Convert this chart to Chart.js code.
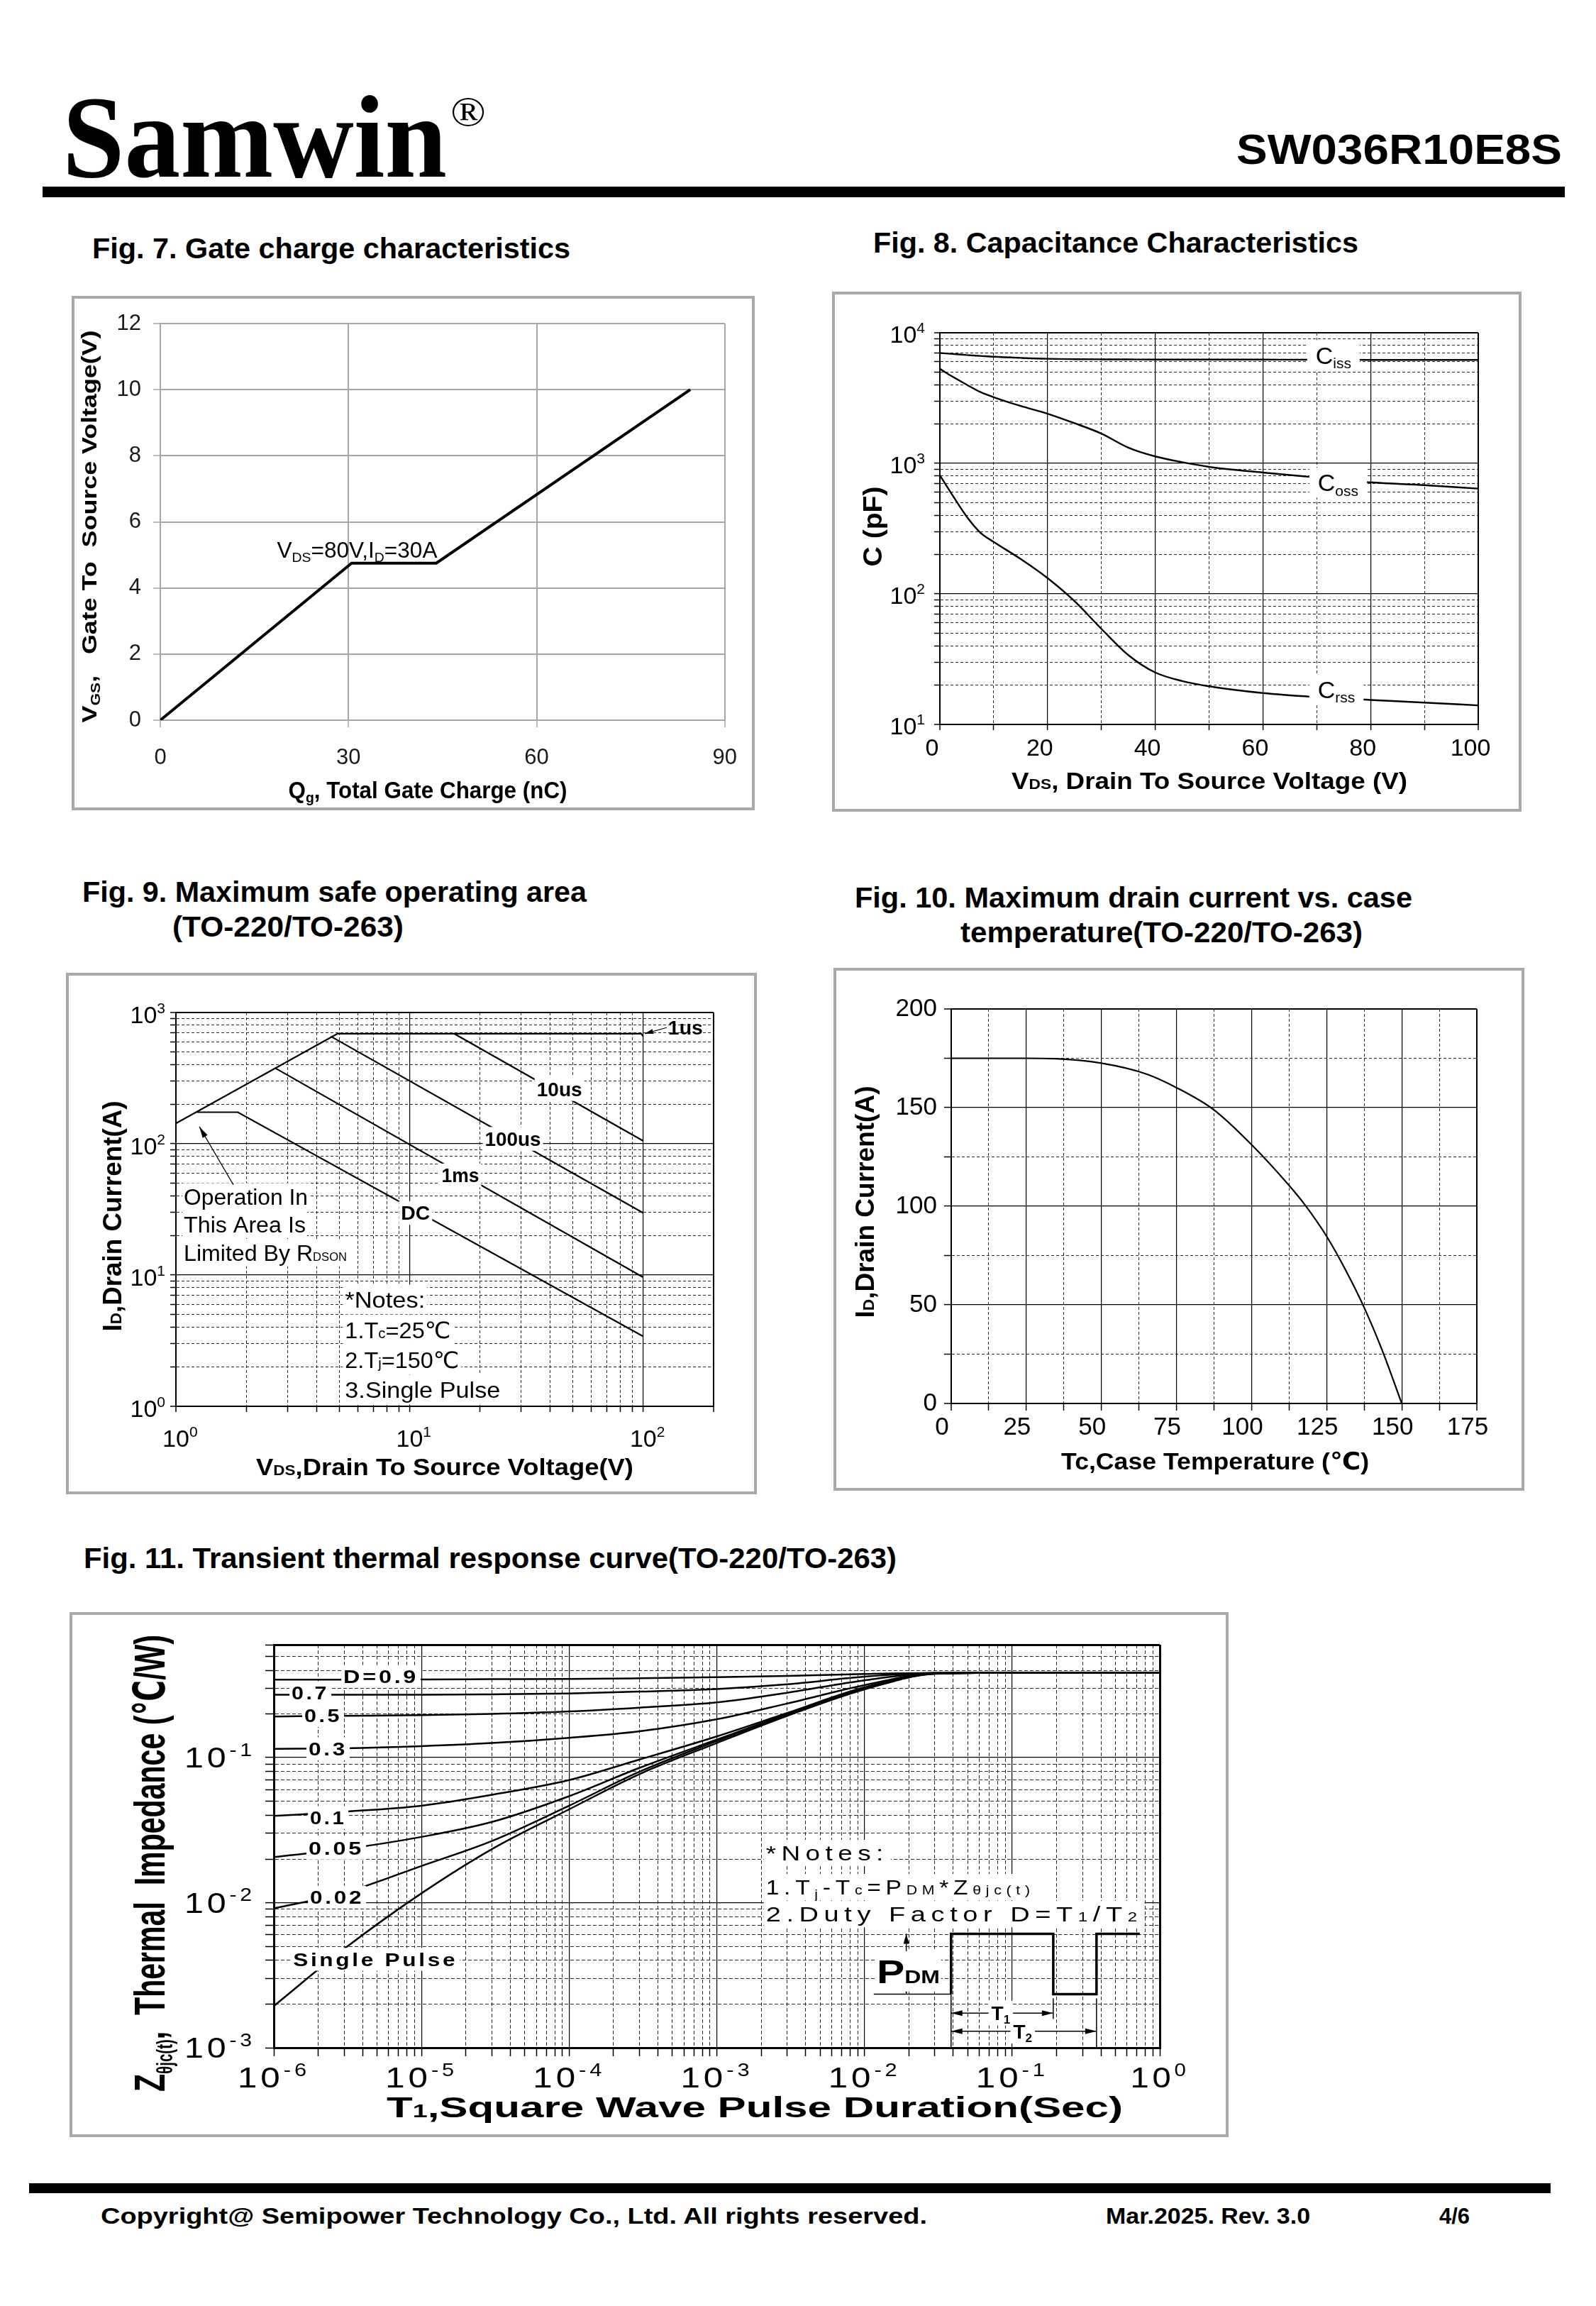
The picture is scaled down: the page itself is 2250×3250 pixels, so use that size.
<!DOCTYPE html>
<html>
<head>
<meta charset="utf-8">
<script src="https://cdn.jsdelivr.net/npm/chart.js@4.4.1/dist/chart.umd.min.js"></script>
<style>
html, body { margin: 0; padding: 0; background: #fff; }
body { position: relative; width: 2250px; height: 3250px; overflow: hidden; font-family: "Liberation Sans", Arial, sans-serif; }
.t { position: absolute; white-space: nowrap; transform-origin: left center; color: #000; }
.box { position: absolute; box-sizing: border-box; border: 4px solid #a9a9a9; pointer-events: none; }
.bar { position: absolute; background: #000; }
canvas { position: absolute; }
</style>
</head>
<body>
<div class="bar" style="left:60px;top:263px;width:2146px;height:15px"></div>
<div class="bar" style="left:41px;top:3077px;width:2145px;height:14px"></div>
<script>
// Fig. 7 gate charge
const qg = [0, 30.5, 44, 84.5];
const vgs = [0, 4.75, 4.75, 10];
const qgTicks = [0, 30, 60, 90];
const vgsTicks = [0, 2, 4, 6, 8, 10, 12];

// Fig. 8 capacitance
const vdsCap = [0, 2, 5, 7.5, 10, 15, 20, 25, 30, 35, 40, 45, 50, 60, 70, 80, 90, 100];
const ciss = [7000, 6900, 6750, 6650, 6550, 6420, 6320, 6280, 6260, 6250, 6240, 6240, 6240, 6230, 6220, 6200, 6200, 6200];
const coss = [5300, 4700, 4000, 3520, 3210, 2750, 2400, 2030, 1690, 1320, 1130, 1020, 940, 850, 780, 715, 680, 640];
const crss = [810, 600, 390, 295, 250, 185, 132, 88, 54, 34, 25, 21.5, 19.6, 17.4, 16.2, 15.4, 14.7, 14.0];
const capVTicks = [0, 10, 20, 30, 40, 50, 60, 70, 80, 90, 100];
const capExp = [1, 2, 3, 4];

// Fig. 9 safe operating area
const limV = [1, 4.92], limI = [143, 690];
const us1V = [4.92, 98, 100], us1I = [690, 690, 655];
const us10V = [15.5, 100], us10I = [690, 105];
const us100V = [4.6, 100], us100I = [658, 29.7];
const ms1V = [2.67, 100], ms1I = [376, 9.6];
const dcV = [1.23, 1.84, 100], dcI = [174, 174, 3.41];
const soaXExp = [0, 1, 2];
const soaYExp = [0, 1, 2, 3];

// Fig. 10 drain current vs case temperature
const tc = [0, 25, 35, 50, 65, 75, 87.5, 100, 112.5, 118, 125, 131.5, 137.5, 143.5, 150];
const idMax = [175, 175, 174.8, 172.5, 167, 160.1, 148.8, 131.2, 110.5, 100.2, 84.7, 67.1, 48.6, 26.9, 0];
const tcTicks = [0, 12.5, 25, 37.5, 50, 62.5, 75, 87.5, 100, 112.5, 125, 137.5, 150, 162.5, 175];
const idTicks = [0, 25, 50, 75, 100, 125, 150, 175, 200];

// Fig. 11 transient thermal impedance
const zthT = [1e-6, 3e-6, 1e-5, 3e-5, 1e-4, 3e-4, 1e-3, 3e-3, 1e-2, 3e-2, 1e-1, 1];
const zD09 = [0.345, 0.345, 0.346, 0.347, 0.348, 0.352, 0.358, 0.366, 0.377, 0.384, 0.385, 0.385];
const zD07 = [0.271, 0.271, 0.271, 0.273, 0.277, 0.285, 0.297, 0.32, 0.361, 0.383, 0.385, 0.385];
const zD05 = [0.192, 0.194, 0.196, 0.2, 0.208, 0.221, 0.24, 0.28, 0.341, 0.382, 0.385, 0.385];
const zD03 = [0.115, 0.116, 0.12, 0.126, 0.137, 0.152, 0.184, 0.236, 0.316, 0.381, 0.385, 0.385];
const zD01 = [0.0396, 0.0424, 0.0466, 0.0554, 0.07, 0.097, 0.14, 0.203, 0.305, 0.38, 0.385, 0.385];
const zD005 = [0.0206, 0.0234, 0.0284, 0.036, 0.0542, 0.085, 0.133, 0.199, 0.3, 0.379, 0.385, 0.385];
const zD002 = [0.00914, 0.0117, 0.0179, 0.0266, 0.0466, 0.08, 0.13, 0.197, 0.298, 0.379, 0.385, 0.385];
const zSingle = [0.00194, 0.00481, 0.0116, 0.0234, 0.044, 0.077, 0.126, 0.194, 0.295, 0.378, 0.385, 0.385];
const zthXExp = [-6, -5, -4, -3, -2, -1, 0];
const zthYExp = [-3, -2, -1];

Chart.defaults.font.family = '"Liberation Sans", Arial, sans-serif';
Chart.defaults.color = '#000';
const FAM = '"Liberation Sans", "DejaVu Sans", sans-serif';

// page text, squeezed or stretched to the width it has in the datasheet
function txt(s, x, cy, size, w, o = {}) {
  const d = document.createElement('div');
  d.className = 't';
  d.textContent = s;
  d.style.fontSize = size + 'px';
  d.style.lineHeight = size + 'px';
  d.style.fontWeight = o.weight || 'bold';
  if (o.family) d.style.fontFamily = o.family;
  d.style.left = x + 'px';
  d.style.top = (cy - size / 2) + 'px';
  document.body.appendChild(d);
  if (w) d.style.transform = 'scaleX(' + (w / d.getBoundingClientRect().width) + ')';
}

// canvas text with sub/superscripts
function rich(ctx, parts, x, y, o = {}) {
  const size = o.size || 30, wt = o.weight || 'normal';
  ctx.save();
  ctx.letterSpacing = (o.spacing || 0) + 'px';
  const segs = parts.map(p => {
    const [t, k] = Array.isArray(p) ? p : [p, ''];
    const s = k ? Math.round(size * (o.sub || 0.62)) : size;
    const dy = k === 'sub' ? size * 0.18 : k === 'sup' ? -size * 0.42 : 0;
    ctx.font = wt + ' ' + s + 'px ' + FAM;
    return {t, s, dy, w: ctx.measureText(t).width};
  });
  const w = segs.reduce((a, g) => a + g.w, 0);
  const sx = o.fit ? o.fit / w : 1;
  ctx.translate(x, y);
  if (o.rot) ctx.rotate(o.rot);
  ctx.scale(sx, 1);
  let cx = o.align === 'center' ? -w / 2 : o.align === 'right' ? -w : o.align === 'first' ? -segs[0].w / 2 : 0;
  if (o.bg) {
    const px = (o.padX ?? 4) / sx, h = o.bgH || size * 1.24;
    ctx.fillStyle = o.bg;
    ctx.fillRect(cx - px, -h / 2, w + 2 * px, h);
  }
  ctx.fillStyle = '#000';
  ctx.textBaseline = 'alphabetic';
  ctx.textAlign = 'left';
  for (const g of segs) {
    ctx.font = wt + ' ' + g.s + 'px ' + FAM;
    ctx.fillText(g.t, cx, size * 0.36 + g.dy);
    cx += g.w;
  }
  ctx.restore();
}

function head(ctx, x, y, a, len, wid) {
  ctx.beginPath();
  ctx.moveTo(x, y);
  ctx.lineTo(x - len * Math.cos(a) + wid * Math.sin(a), y - len * Math.sin(a) - wid * Math.cos(a));
  ctx.lineTo(x - len * Math.cos(a) - wid * Math.sin(a), y - len * Math.sin(a) + wid * Math.cos(a));
  ctx.closePath();
  ctx.fill();
}
function arrow(ctx, x1, y1, x2, y2, o = {}) {
  ctx.save();
  ctx.strokeStyle = ctx.fillStyle = '#000';
  ctx.lineWidth = o.lw || 1.5;
  ctx.beginPath(); ctx.moveTo(x1, y1); ctx.lineTo(x2, y2); ctx.stroke();
  const a = Math.atan2(y2 - y1, x2 - x1);
  head(ctx, x2, y2, a, o.len || 14, o.wid || 4);
  if (o.both) head(ctx, x1, y1, a + Math.PI, o.len || 14, o.wid || 4);
  ctx.restore();
}
function seg(ctx, pts, lw) {
  ctx.save();
  ctx.strokeStyle = '#000';
  ctx.lineWidth = lw;
  ctx.beginPath();
  pts.forEach((p, i) => i ? ctx.lineTo(p[0], p[1]) : ctx.moveTo(p[0], p[1]));
  ctx.stroke();
  ctx.restore();
}

const lin = (vals, isMajor) => vals.map((v, i) => ({value: v, major: isMajor(v), edge: i === 0 || i === vals.length - 1}));
function logTicks(e0, e1, max) {
  const out = [];
  for (let e = e0; e <= e1; e++) {
    for (let m = 1; m <= 9; m++) {
      const v = +(m * Math.pow(10, e)).toPrecision(6);
      if (v > max * 1.0001) break;
      out.push({value: v, major: m === 1});
    }
  }
  out[0].edge = true;
  out[out.length - 1].edge = true;
  out[out.length - 1].major = true;
  return out;
}

function axis(type, min, max, ticks, o = {}) {
  const major = c => c.tick && c.tick.major;
  return {
    type, min, max, bounds: 'data',
    afterBuildTicks: s => { s.ticks = ticks.map(t => Object.assign({}, t)); },
    grid: {
      color: o.gridColor || (c => major(c) ? '#000' : '#2a2a2a'),
      lineWidth: c => (c.tick && c.tick.edge) ? (o.edgeWidth || 2) : (major(c) ? (o.majorWidth || 1.2) : 1),
      tickLength: o.tickLength ?? 8,
      tickColor: o.tickColor || '#000',
      tickWidth: o.tickWidth || 1.5,
      tickBorderDash: []
    },
    border: {
      color: o.borderColor || '#000',
      width: o.borderWidth || 2,
      dash: c => (!c.tick || major(c) || o.solid) ? [] : (o.dash || [5, 3])
    },
    ticks: {
      display: !!o.labels, autoSkip: false, maxRotation: 0, minRotation: 0,
      padding: o.padding ?? 4, font: {size: o.size || 32}, color: o.tickText || '#000',
      callback: o.labels || (v => v), labelOffset: o.labelOffset || 0
    }
  };
}

const pts = (xs, ys) => xs.map((x, i) => ({x, y: ys[i]}));
const line = (xs, ys, w, smooth) => ({data: pts(xs, ys), borderColor: '#000', borderWidth: w, pointRadius: 0, fill: false,
  cubicInterpolationMode: smooth ? 'monotone' : 'default', tension: 0});

function makeChart(box, area, scales, datasets, draw) {
  const [left, top, W, H] = box;
  const [l, t, r, b] = area;
  const cv = document.createElement('canvas');
  cv.width = W; cv.height = H;
  Object.assign(cv.style, {left: left + 'px', top: top + 'px', width: W + 'px', height: H + 'px'});
  document.body.appendChild(cv);
  const frame = document.createElement('div');
  frame.className = 'box';
  Object.assign(frame.style, {left: left + 'px', top: top + 'px', width: W + 'px', height: H + 'px'});
  document.body.appendChild(frame);
  scales.x.afterFit = s => { s.height = H - b; };
  scales.y.afterFit = s => { s.width = l; };
  return new Chart(cv, {
    type: 'line',
    data: {datasets},
    options: {
      responsive: false, animation: false, devicePixelRatio: 1, events: [],
      layout: {padding: {left: 0, top: t, right: W - r, bottom: 0}},
      plugins: {legend: {display: false}, tooltip: {enabled: false}},
      scales
    },
    plugins: [{id: 'notes', afterDraw: c => draw(c.ctx, c.scales.x, c.scales.y)}]
  });
}

const ROT = -Math.PI / 2;

// header, titles, footer
txt('Samwin', 88, 193, 166, 542, {family: '"Liberation Serif", serif'});
txt('®', 635, 157, 60, 50, {family: '"Liberation Serif", serif', weight: 'normal'});
txt('SW036R10E8S', 1743, 211, 60, 459);
txt('Fig. 7. Gate charge characteristics', 130, 350, 40, 674);
txt('Fig. 8. Capacitance Characteristics', 1231, 342, 40, 684);
txt('Fig. 9. Maximum safe operating area', 116, 1257, 40, 711);
txt('(TO-220/TO-263)', 243, 1306, 40, 326);
txt('Fig. 10. Maximum drain current vs. case', 1205, 1265, 40, 786);
txt('temperature(TO-220/TO-263)', 1354, 1314, 40, 567);
txt('Fig. 11. Transient thermal response curve(TO-220/TO-263)', 118, 2196, 40, 1146);
txt('Copyright@ Semipower Technology Co., Ltd. All rights reserved.', 142, 3123, 31, 1165);
txt('Mar.2025. Rev. 3.0', 1559, 3123, 31, 288);
txt('4/6', 2029, 3123, 31, 43);

// Fig. 7
const gray = {solid: true, gridColor: '#a6a6a6', borderColor: '#a6a6a6', tickColor: '#a6a6a6', majorWidth: 2, edgeWidth: 2,
  tickLength: 10, size: 31, tickText: '#1a1a1a', labels: v => v};
makeChart([101, 417, 963, 725], [125, 39, 928, 598], {
  x: axis('linear', 0, 90, lin(qgTicks, () => true), Object.assign({}, gray, {padding: 25})),
  y: axis('linear', 0, 12, lin(vgsTicks, () => true), Object.assign({}, gray, {padding: 17}))
}, [line(qg, vgs, 4, false)], (ctx, xs, ys) => {
  rich(ctx, ['V', ['DS', 'sub'], '=80V,I', ['D', 'sub'], '=30A'], xs.getPixelForValue(18.6), ys.getPixelForValue(5.15), {size: 31, fit: 226});
  rich(ctx, ['V', ['GS', 'sub'], ',   Gate To  Source Voltage(V)'], 24, 325, {size: 30, weight: 'bold', rot: ROT, align: 'center', fit: 553});
  rich(ctx, ['Q', ['g', 'sub'], ', Total Gate Charge (nC)'], 502, 696, {size: 34, weight: 'bold', align: 'center', fit: 393});
});

// Fig. 8
makeChart([1173, 411, 972, 733], [152, 58, 911, 610], {
  x: axis('linear', 0, 100, lin(capVTicks, v => v % 20 === 0), {labels: v => v % 20 === 0 ? v : '', size: 34, padding: 6, labelOffset: -11, dash: [4, 3]}),
  y: axis('logarithmic', 10, 10000, logTicks(1, 4, 10000), {dash: [4, 3]})
}, [line(vdsCap, ciss, 2.4, true), line(vdsCap, coss, 2.4, true), line(vdsCap, crss, 2.4, true)], (ctx, xs, ys) => {
  const X = v => xs.getPixelForValue(v), Y = v => ys.getPixelForValue(v);
  capExp.forEach(e => rich(ctx, ['10', [String(e), 'sup']], 131, Y(Math.pow(10, e)) + 2, {size: 34, align: 'right'}));
  rich(ctx, ['C', ['iss', 'sub']], X(69.8), Y(6750), {size: 34, bg: '#fff', padX: 12});
  rich(ctx, ['C', ['oss', 'sub']], X(70.2), Y(711), {size: 34, bg: '#fff', padX: 12});
  rich(ctx, ['C', ['rss', 'sub']], X(70.2), Y(18.5), {size: 34, bg: '#fff', padX: 12});
  rich(ctx, ['C (pF)'], 57, 331, {size: 36, weight: 'bold', rot: ROT, align: 'center', fit: 113});
  rich(ctx, ['V', ['DS', 'small'], ', Drain To Source Voltage (V)'], 532, 689, {size: 34, weight: 'bold', align: 'center', fit: 558});
});

// Fig. 9
makeChart([93, 1371, 974, 735], [155, 56, 913, 611], {
  x: axis('logarithmic', 1, 200, logTicks(0, 2, 200), {dash: [4, 3]}),
  y: axis('logarithmic', 1, 1000, logTicks(0, 3, 1000), {dash: [4, 3]})
}, [line(limV, limI, 2.2), line(us1V, us1I, 2.2), line(us10V, us10I, 2.2), line(us100V, us100I, 2.2),
    line(ms1V, ms1I, 2.2), line(dcV, dcI, 2.2)], (ctx, xs, ys) => {
  const X = v => xs.getPixelForValue(v), Y = v => ys.getPixelForValue(v);
  soaXExp.forEach(e => rich(ctx, ['10', [String(e), 'sup']], X(Math.pow(10, e)), 656, {size: 34, align: 'first'}));
  soaYExp.forEach(e => rich(ctx, ['10', [String(e), 'sup']], 140, Y(Math.pow(10, e)) + 3, {size: 34, align: 'right'}));
  const lab = {size: 27, weight: 'bold', bg: '#fff', padX: 3};
  rich(ctx, ['10us'], X(35.0), Y(261), Object.assign({fit: 64}, lab));
  rich(ctx, ['100us'], X(21.0), Y(109), Object.assign({fit: 79}, lab));
  rich(ctx, ['1ms'], X(13.7), Y(57.4), Object.assign({fit: 53}, lab));
  rich(ctx, ['DC'], X(9.19), Y(29.7), Object.assign({fit: 41}, lab));
  rich(ctx, ['1us'], X(127.7), Y(771), {size: 27, weight: 'bold', fit: 49});
  arrow(ctx, X(126), Y(768), X(101.5), Y(690), {lw: 1.2, len: 12, wid: 3.5});
  const op = {size: 31, bg: '#fff', padX: 2};
  rich(ctx, ['Operation In'], X(1.08), Y(39.5), Object.assign({fit: 175}, op));
  rich(ctx, ['This Area Is'], X(1.08), Y(24.3), Object.assign({fit: 172}, op));
  rich(ctx, ['Limited By R', ['DSON', 'small']], X(1.08), Y(14.8), Object.assign({fit: 230, sub: 0.5}, op));
  arrow(ctx, X(1.76), Y(48.8), X(1.26), Y(135), {lw: 1.2, len: 16, wid: 4});
  const nt = {size: 32, bg: '#fff', padX: 3, bgH: 42};
  rich(ctx, ['*Notes:'], X(5.29), Y(6.52), Object.assign({fit: 113}, nt));
  rich(ctx, ['1.T', ['c', 'small'], '=25℃'], X(5.29), Y(3.82), Object.assign({fit: 149}, nt));
  rich(ctx, ['2.T', ['j', 'small'], '=150℃'], X(5.29), Y(2.27), Object.assign({fit: 161}, nt));
  rich(ctx, ['3.Single Pulse'], X(5.29), Y(1.34), Object.assign({fit: 219}, nt));
  rich(ctx, ['I', ['D', 'small'], ',Drain Current(A)'], 65, 343, {size: 36, weight: 'bold', rot: ROT, align: 'center', fit: 325});
  rich(ctx, ['V', ['DS', 'small'], ',Drain To Source Voltage(V)'], 534, 696, {size: 34, weight: 'bold', align: 'center', fit: 532});
});

// Fig. 10
makeChart([1175, 1364, 974, 737], [166, 58, 907, 614], {
  x: axis('linear', 0, 175, lin(tcTicks, v => v % 25 === 0), {labels: v => v % 25 === 0 ? v : '', size: 35, padding: 3, tickLength: 10, labelOffset: -13, dash: [4, 3]}),
  y: axis('linear', 0, 200, lin(idTicks, v => v % 50 === 0), {labels: v => v % 50 === 0 ? v : '', size: 35, padding: 10, tickLength: 10, dash: [4, 3]})
}, [line(tc, idMax, 2.2, true)], (ctx) => {
  rich(ctx, ['I', ['D', 'small'], ',Drain Current(A)'], 44, 330, {size: 36, weight: 'bold', rot: ROT, align: 'center', fit: 327});
  rich(ctx, ['Tc,Case Temperature (℃)'], 538, 695, {size: 34, weight: 'bold', align: 'center', fit: 434});
});

// Fig. 11
makeChart([98, 2272, 1634, 740], [288, 46, 1537, 614], {
  x: axis('logarithmic', 1e-6, 1, logTicks(-6, 0, 1), {tickLength: 12, borderWidth: 3, edgeWidth: 3, dash: [5, 3]}),
  y: axis('logarithmic', 0.001, 0.6, logTicks(-3, -1, 0.6), {tickLength: 12, borderWidth: 3, edgeWidth: 3, dash: [5, 3]})
}, [zD09, zD07, zD05, zD03, zD01, zD005, zD002, zSingle].map(z => line(zthT, z, 2.5, true)), (ctx, xs, ys) => {
  const X = v => xs.getPixelForValue(v), Y = v => ys.getPixelForValue(v);
  zthXExp.forEach(e => rich(ctx, ['10', [String(e), 'sup']], X(Math.pow(10, e)), 656, {size: 40, spacing: 4, align: 'center', fit: e ? 102 : 83}));
  zthYExp.forEach(e => rich(ctx, ['10', [String(e), 'sup']], 262, Y(Math.pow(10, e)), {size: 40, spacing: 4, align: 'right', fit: 100}));
  const lab = {size: 26, weight: 'bold', spacing: 3, bg: '#fff', padX: 3};
  [[['D=0.9'], 2.96e-6, 0.362, 106], [['0.7'], 1.32e-6, 0.28, 53], [['0.5'], 1.61e-6, 0.195, 53], [['0.3'], 1.72e-6, 0.115, 55],
   [['0.1'], 1.76e-6, 0.0386, 51], [['0.05'], 1.72e-6, 0.0238, 78], [['0.02'], 1.76e-6, 0.0109, 76], [['Single Pulse'], 1.35e-6, 0.00407, 232]]
    .forEach(([p, t, z, w]) => rich(ctx, p, X(t), Y(z), Object.assign({fit: w}, lab)));
  const nt = {size: 30, spacing: 6, bg: '#fff', padX: 3};
  rich(ctx, ['*Notes:'], X(0.00215), Y(0.022), Object.assign({fit: 173}, nt));
  rich(ctx, ['1.T', ['j', 'sub'], '-T', ['c', 'small'], '=P', ['DM', 'small'], '*Z', ['θjc(t)', 'small']], X(0.00215), Y(0.0128), Object.assign({fit: 379}, nt));
  rich(ctx, ['2.Duty Factor D=T', ['1', 'small'], '/T', ['2', 'small']], X(0.00215), Y(0.00834), Object.assign({fit: 531}, nt));
  // pulse sketch
  const lo = 0.00234, hi = 0.0061;
  seg(ctx, [[X(0.01156), Y(lo)], [X(0.0386), Y(lo)]], 1.5);
  seg(ctx, [[X(0.0386), Y(lo)], [X(0.0386), Y(hi)], [X(0.19), Y(hi)], [X(0.19), Y(lo)], [X(0.373), Y(lo)], [X(0.373), Y(hi)], [X(0.733), Y(hi)]], 3.5);
  seg(ctx, [[X(0.0386), Y(lo)], [X(0.0386), Y(0.001)]], 1.5);
  seg(ctx, [[X(0.19), Y(0.00219)], [X(0.19), Y(0.00158)]], 1.5);
  seg(ctx, [[X(0.373), Y(0.00219)], [X(0.373), Y(0.001)]], 1.5);
  arrow(ctx, X(0.0192), Y(hi), X(0.0192), Y(lo), {both: true, lw: 1.5, len: 14, wid: 4});
  arrow(ctx, X(0.0386), Y(0.00173), X(0.19), Y(0.00173), {both: true, lw: 1.5, len: 16, wid: 4});
  arrow(ctx, X(0.0386), Y(0.0013), X(0.373), Y(0.0013), {both: true, lw: 1.5, len: 16, wid: 4});
  rich(ctx, ['P', ['DM', 'small']], X(0.0121), Y(0.00336), {size: 46, weight: 'bold', sub: 0.55, bg: '#fff', padX: 2, fit: 89});
  rich(ctx, ['T', ['1', 'sub']], X(0.0838), Y(0.00173), {size: 28, weight: 'bold', align: 'center', bg: '#fff', padX: 4});
  rich(ctx, ['T', ['2', 'sub']], X(0.118), Y(0.0013), {size: 28, weight: 'bold', align: 'center', bg: '#fff', padX: 4});
  rich(ctx, ['Z', ['θjc(t)', 'sub'], ',  Thermal  Impedance (℃/W)'], 112, 354, {size: 62, weight: 'bold', rot: ROT, align: 'center', fit: 644, sub: 0.5});
  rich(ctx, ['T', ['1', 'small'], ',Square Wave Pulse Duration(Sec)'], 966, 698, {size: 40, weight: 'bold', align: 'center', fit: 1038});
});
</script>
</body>
</html>
